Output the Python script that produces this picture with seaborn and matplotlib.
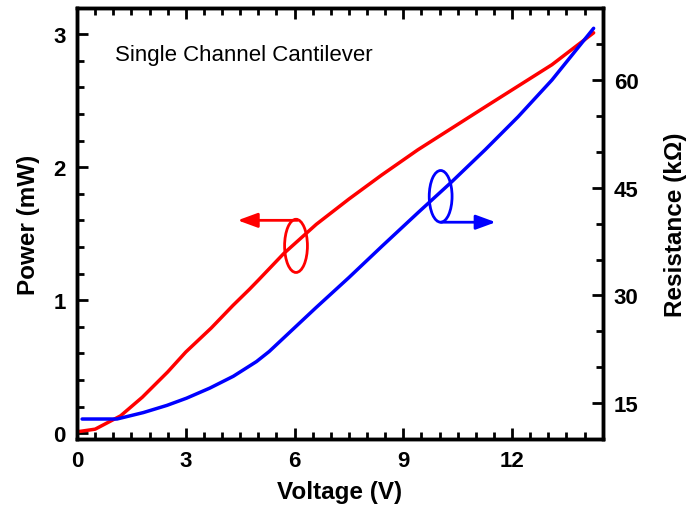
import numpy as np
import pandas as pd
import matplotlib
matplotlib.use("Agg")
import matplotlib.pyplot as plt
from matplotlib.patches import Ellipse
from matplotlib.ticker import MultipleLocator
import seaborn as sns

# values
power_volts = [0.0, 0.5, 1.2, 1.8, 2.5, 3.0, 3.7, 4.3, 4.75, 5.0, 5.7, 6.6, 7.5, 8.4, 9.4, 11.3, 13.1, 14.25]
power_mw = [0.01, 0.03, 0.13, 0.27, 0.46, 0.61, 0.79, 0.96, 1.08, 1.15, 1.35, 1.57, 1.76, 1.94, 2.13, 2.46, 2.77, 3.01]

res_volts = [0.14, 1.1, 1.83, 2.48, 3.02, 3.66, 4.31, 4.95, 5.3, 6.59, 7.5, 8.42, 9.42, 10.33, 11.26, 12.17, 13.1, 14.25]
res_kohm = [12.8, 12.8, 13.7, 14.7, 15.7, 17.1, 18.75, 20.8, 22.2, 28.3, 32.5, 36.9, 41.6, 45.8, 50.3, 54.9, 60.0, 67.2]

x_ticks = [0, 3, 6, 9, 12]
power_ticks = [0, 1, 2, 3]
res_ticks = [15, 30, 45, 60]

red = "#ff0000"
blue = "#0000ff"

sns.set_style("ticks", {"axes.edgecolor": "black", "xtick.color": "black",
                        "ytick.color": "black", "text.color": "black",
                        "axes.labelcolor": "black"})
plt.rcParams["font.family"] = ["Liberation Sans", "DejaVu Sans"]

power = pd.DataFrame({"Voltage": power_volts, "Power": power_mw})
res = pd.DataFrame({"Voltage": res_volts, "Resistance": res_kohm})

fig = plt.figure(figsize=(6.88, 5.10), dpi=100)
ax = fig.add_axes([0.112, 0.137, 0.764, 0.845])
ax2 = ax.twinx()

sns.lineplot(data=power, x="Voltage", y="Power", ax=ax, color=red, lw=2.5, sort=False)
sns.lineplot(data=res, x="Voltage", y="Resistance", ax=ax2, color=blue, lw=2.5, sort=False)

ax.set_xlim(0, 14.5)
ax.set_ylim(-0.045, 3.195)
ax2.set_ylim(10, 70)

ax.xaxis.set_minor_locator(MultipleLocator(0.5))
ax.yaxis.set_minor_locator(MultipleLocator(0.2))
ax2.yaxis.set_minor_locator(MultipleLocator(5))
ax.set_xticks(x_ticks)
ax.set_yticks(power_ticks)
ax2.set_yticks(res_ticks)

for a in (ax, ax2):
    for s in a.spines.values():
        s.set_linewidth(2.5)
        s.set_visible(True)
        s.set_color("black")
ax.tick_params(which="both", direction="in", top=True, right=False, width=2,
               labelsize=16, pad=8, colors="black")
ax.tick_params(which="major", length=8)
ax.tick_params(which="minor", length=5)
ax2.tick_params(which="both", direction="in", left=False, right=True, width=2,
                labelsize=16, pad=8, colors="black")
ax2.tick_params(which="major", length=8)
ax2.tick_params(which="minor", length=5)
for lab in ax.get_xticklabels() + ax.get_yticklabels() + ax2.get_yticklabels():
    lab.set_fontweight("bold")

ax.set_xlabel("Voltage (V)", fontsize=17.5, fontweight="bold", labelpad=6)
ax.set_ylabel("Power (mW)", fontsize=17.5, fontweight="bold", labelpad=10)
ax2.set_ylabel("Resistance (k\u03a9)", fontsize=17.5, fontweight="bold", labelpad=18)

ax.text(1.05, 2.85, "Single Channel Cantilever", fontsize=16, va="center", ha="left",
        color="black")

# direction markers: ellipse round each curve with an arrow to its axis
ax.add_patch(Ellipse((6.04, 1.408), 0.63, 0.40, fill=False, ec=red, lw=2))
ax.annotate("", xy=(4.43, 1.60), xytext=(6.08, 1.60),
            arrowprops=dict(arrowstyle="-|>,head_length=0.6,head_width=0.22",
                            mutation_scale=20, lw=2, color=red, shrinkA=0, shrinkB=0))
ax2.add_patch(Ellipse((10.03, 43.8), 0.63, 7.2, fill=False, ec=blue, lw=2))
ax2.annotate("", xy=(11.55, 40.2), xytext=(10.04, 40.2),
             arrowprops=dict(arrowstyle="-|>,head_length=0.6,head_width=0.22",
                             mutation_scale=20, lw=2, color=blue, shrinkA=0, shrinkB=0))

fig.savefig("out.png", dpi=100)
